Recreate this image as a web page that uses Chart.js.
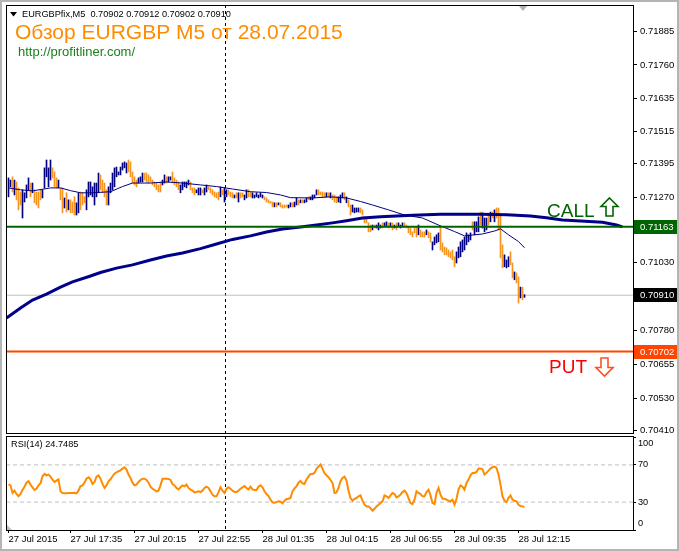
<!DOCTYPE html>
<html>
<head>
<meta charset="utf-8">
<script src="https://cdn.jsdelivr.net/npm/chart.js@4.4.0/dist/chart.umd.min.js"></script>
<style>
  body { margin: 0; background: #fff; }
  #janela { position: relative; width: 679px; height: 551px; overflow: hidden; background: #fff; }
  #janela canvas { position: absolute; left: 0; }
  #grafPreco { top: 0; }
  #grafRsi { top: 436px; }
  #moldura { position: absolute; left: 0; top: 0; width: 675px; height: 547px; border: 2px solid #b4b4b4; pointer-events: none; }
</style>
</head>
<body>
<div id="janela">
  <canvas id="grafPreco" width="679" height="436"></canvas>
  <canvas id="grafRsi" width="679" height="115"></canvas>
  <div id="moldura"></div>
</div>
<script>
// ---- Dados (preços em pontos de 0.00001) ----

// Rótulos de tempo do eixo X e as barras onde ficam
const rotulosTempo = ['27 Jul 2015', '27 Jul 17:35', '27 Jul 20:15', '27 Jul 22:55', '28 Jul 01:35',
  '28 Jul 04:15', '28 Jul 06:55', '28 Jul 09:35', '28 Jul 12:15'];
const barrasRotulos = [0, 31, 63, 95, 127, 159, 191, 223, 255];
const barraSeparador = 108; // 28 Jul 00:00

// Valores do eixo de preço
const ticksPreco = [71885, 71760, 71635, 71515, 71395, 71270, 71150, 71030, 70910, 70780, 70655, 70530, 70410];

// Máximas e mínimas das barras M5
const maximas = [
  71343, 71335, 71347, 71335, 71328, 71306, 71291, 71299, 71288, 71317,
  71343, 71324, 71324, 71299, 71291, 71291, 71299, 71299, 71380, 71409,
  71380, 71409, 71380, 71365, 71343, 71335, 71306, 71306, 71269, 71288,
  71262, 71262, 71254, 71273, 71251, 71288, 71291, 71288, 71273, 71299,
  71328, 71328, 71310, 71324, 71324, 71361, 71354, 71335, 71324, 71299,
  71310, 71324, 71361, 71380, 71383, 71365, 71383, 71398, 71402, 71398,
  71409, 71402, 71365, 71347, 71335, 71343, 71347, 71361, 71361, 71361,
  71354, 71347, 71335, 71328, 71324, 71317, 71328, 71335, 71354, 71347,
  71347, 71347, 71365, 71343, 71335, 71328, 71317, 71328, 71328, 71328,
  71335, 71328, 71306, 71306, 71299, 71306, 71306, 71299, 71306, 71317,
  71310, 71306, 71299, 71291, 71288, 71291, 71310, 71299, 71306, 71299,
  71299, 71291, 71288, 71280, 71288, 71288, 71288, 71288, 71280, 71299,
  71299, 71291, 71288, 71280, 71288, 71280, 71288, 71280, 71273, 71269,
  71262, 71256, 71254, 71251, 71251, 71251, 71251, 71243, 71243, 71243,
  71243, 71251, 71251, 71254, 71269, 71262, 71262, 71262, 71262, 71269,
  71273, 71273, 71280, 71280, 71299, 71299, 71291, 71291, 71288, 71288,
  71288, 71288, 71280, 71280, 71273, 71273, 71280, 71288, 71288, 71273,
  71262, 71243, 71243, 71232, 71232, 71232, 71232, 71225, 71199, 71195,
  71177, 71169, 71169, 71169, 71169, 71177, 71169, 71177, 71177, 71181,
  71177, 71177, 71177, 71169, 71177, 71177, 71169, 71177, 71177, 71169,
  71162, 71158, 71144, 71158, 71162, 71169, 71151, 71144, 71144, 71151,
  71144, 71140, 71107, 71125, 71133, 71140, 71162, 71103, 71088, 71085,
  71077, 71070, 71077, 71052, 71070, 71088, 71107, 71114, 71125, 71140,
  71133, 71140, 71181, 71181, 71181, 71199, 71217, 71214, 71195, 71195,
  71206, 71217, 71217, 71225, 71232, 71232, 71206, 71096, 71059, 71040,
  71052, 71070, 71029, 70996, 70992, 70978, 70940, 70940, 70912
];
const minimas = [
  71273, 71310, 71291, 71280, 71262, 71225, 71243, 71195, 71254, 71269,
  71299, 71273, 71288, 71251, 71243, 71232, 71262, 71269, 71306, 71347,
  71310, 71335, 71343, 71310, 71306, 71306, 71262, 71214, 71232, 71217,
  71225, 71214, 71214, 71206, 71206, 71214, 71225, 71243, 71251, 71225,
  71273, 71280, 71273, 71243, 71273, 71288, 71299, 71288, 71273, 71243,
  71243, 71288, 71299, 71310, 71347, 71354, 71354, 71372, 71380, 71361,
  71365, 71347, 71324, 71317, 71310, 71324, 71328, 71328, 71335, 71328,
  71324, 71328, 71317, 71310, 71299, 71291, 71291, 71317, 71324, 71324,
  71328, 71335, 71324, 71317, 71310, 71299, 71288, 71299, 71310, 71306,
  71317, 71299, 71288, 71280, 71288, 71280, 71280, 71288, 71280, 71291,
  71299, 71288, 71280, 71273, 71269, 71262, 71273, 71280, 71254, 71273,
  71280, 71273, 71269, 71269, 71269, 71254, 71269, 71273, 71262, 71269,
  71273, 71273, 71269, 71269, 71273, 71269, 71273, 71269, 71262, 71254,
  71251, 71249, 71236, 71236, 71236, 71243, 71236, 71232, 71232, 71236,
  71232, 71236, 71236, 71236, 71243, 71243, 71251, 71251, 71251, 71254,
  71262, 71262, 71262, 71269, 71280, 71280, 71280, 71273, 71273, 71273,
  71273, 71269, 71262, 71254, 71251, 71254, 71251, 71269, 71262, 71251,
  71236, 71206, 71217, 71214, 71217, 71217, 71214, 71206, 71177, 71177,
  71144, 71144, 71151, 71158, 71158, 71151, 71158, 71158, 71162, 71162,
  71158, 71162, 71151, 71158, 71151, 71162, 71158, 71162, 71162, 71158,
  71140, 71133, 71125, 71140, 71125, 71133, 71125, 71125, 71125, 71133,
  71122, 71107, 71077, 71096, 71103, 71107, 71077, 71070, 71059, 71059,
  71052, 71048, 71040, 71015, 71029, 71048, 71052, 71070, 71077, 71096,
  71107, 71114, 71151, 71133, 71144, 71144, 71169, 71158, 71144, 71151,
  71169, 71181, 71195, 71181, 71195, 71151, 71048, 71011, 71015, 71011,
  71015, 71022, 70974, 70967, 70955, 70881, 70900, 70893, 70902
];
// Sentido de cada barra: u = alta, d = baixa
const sentidoBarras = (
  'uududdduuu' + 'ududddduuu' + 'uuddduddud' + 'uddduudddu' + 'uuuuuudddd' +
  'uuuuuuuuuu' + 'ddddduuudd' + 'ddddddduud' + 'uudddduuuu' + 'uddduuuduu' +
  'dddddduduu' + 'dddududduu' + 'dduuuuuudd' + 'dddududddd' + 'uuduududuu' +
  'duuuuddddu' + 'duddduuudu' + 'dduuuudddd' + 'dduduuuduu' + 'dududuuudd' +
  'dddddudddu' + 'dduuuudddd' + 'dddduuuuuu' + 'uuduuuduuu' + 'dududddduu' +
  'udduddudu').split('');
const aberturaUltima = 70902;
const fechamentoUltimo = 70910;

// Média móvel rápida (fina)
const maRapidaBarras = [0, 6, 12, 21, 26, 31, 36, 42, 51, 57, 62, 71, 79, 87, 96, 104, 112, 121, 129,
  136, 141, 152, 161, 169, 176, 182, 190, 198, 207, 215, 223, 228, 237, 243, 246, 250, 255, 258];
const maRapidaValores = [71306, 71299, 71295, 71306, 71306, 71296, 71288, 71288, 71292, 71311, 71324,
  71324, 71328, 71324, 71317, 71311, 71302, 71292, 71289, 71280, 71270, 71269, 71273, 71269, 71256,
  71243, 71225, 71206, 71195, 71169, 71145, 71129, 71136, 71147, 71155, 71133, 71108, 71085];

// Média móvel lenta (grossa, deslocada para frente)
const maLentaBarras = [-1, 6, 12, 19, 26, 32, 41, 46, 54, 62, 71, 79, 87, 96, 104, 112, 121, 129, 137,
  146, 154, 162, 169, 177, 186, 194, 202, 216, 236, 249, 261, 269, 277, 286, 297, 304, 307];
const maLentaValores = [70826, 70863, 70892, 70914, 70940, 70959, 70981, 70994, 71010, 71022, 71040,
  71055, 71066, 71082, 71099, 71116, 71129, 71143, 71154, 71162, 71169, 71177, 71185, 71195, 71200,
  71202, 71205, 71209, 71209, 71207, 71202, 71196, 71188, 71184, 71179, 71169, 71162];

// Níveis horizontais
const nivelCall = 71163;
const nivelPut = 70702;
const precoBid = 70910;

// RSI(14)
const valoresRsi = [
  49, 48, 39.8, 42.3, 38.7, 36.2, 38.7, 43, 46.6, 50.9,
  52.4, 48.8, 45.9, 43, 44.4, 48, 50.2, 57.8, 60.3, 58.8,
  59.6, 57.4, 54.2, 51.6, 53.1, 54.5, 41.6, 39.8, 39.4, 39.4,
  39.8, 39.8, 39.8, 40.1, 39.4, 42.3, 47.3, 48, 50.9, 55.2,
  56.7, 54.5, 49.5, 51.6, 57.4, 58.8, 55.2, 49.5, 45.2, 48,
  52.4, 54.5, 57.8, 60.6, 62.1, 63.2, 64.2, 66, 67.5, 65,
  59.6, 56, 50.9, 48, 48.8, 51.6, 53.8, 55.2, 55.2, 53.8,
  50.9, 46.6, 44.4, 43, 41.6, 42.3, 48, 55.2, 55.2, 55.2,
  54.9, 53.8, 49.5, 48, 45.2, 43.7, 45.9, 48, 47, 48.8,
  45.2, 43.4, 42.3, 40.5, 40.8, 41.6, 40.8, 42.3, 45.2, 46.6,
  45.2, 41.6, 38, 36.2, 36.2, 40.8, 45.9, 42.3, 39.8, 44.4,
  45.9, 44.4, 42.3, 40.8, 40.8, 42.3, 44.4, 45.9, 47.3, 45.2,
  43.7, 46.6, 43.7, 43, 43, 46.6, 48, 45.9, 41.6, 38.7,
  36.5, 32.6, 29.7, 29.3, 30, 30.8, 30.4, 28.6, 31.5, 33.3,
  33.6, 34.4, 41.6, 44.8, 47, 50.9, 52.7, 50.2, 49.5, 54.2,
  57.4, 60.3, 60.3, 61.4, 65.7, 68.2, 70.4, 66, 61, 58.8,
  56.7, 53.8, 50.6, 39.8, 40.5, 45.2, 52.4, 56, 57.4, 53.1,
  42.3, 34.4, 31.5, 33.6, 34.4, 36.2, 37.2, 31.5, 27.2, 25.4,
  25.4, 23.6, 20.7, 22.8, 25.4, 27.2, 29, 30.8, 37.2, 36.2,
  34.4, 37.2, 39.8, 38.7, 35.1, 36.2, 38, 40.8, 42.3, 39.8,
  34.4, 29, 27.9, 32.6, 41.6, 39.8, 38.7, 36.2, 36.2, 40.8,
  43.4, 37.2, 29, 27.9, 39.8, 45.2, 38, 33.6, 33.6, 32.6,
  31.5, 30.8, 32.6, 27.2, 33.6, 43.4, 48, 46.6, 43.4, 50.6,
  54.2, 58.8, 61.4, 61.4, 62.4, 66, 66, 65.3, 59.6, 61.4,
  63.9, 66, 67.5, 68.2, 66.8, 59.6, 48.8, 36.2, 31.5, 30,
  34.4, 37.2, 32.6, 31.5, 30.8, 27.2, 25.7, 25.4, 24.7485
];
const niveisRsi = [70, 30];
const ticksRsi = [0, 30, 70, 100];

// ---- Escalas ----
const X_MIN = -1.25, X_MAX = 312.25;
const Y_MIN = 70401.6, Y_MAX = 71977.3;

const FONTE = '"Liberation Sans", Arial, sans-serif';
const fontePequena = { family: FONTE, size: 9.5 };
const azulBarra = '#000080';
const laranjaBarra = '#f5941f';

// Formata pontos como preço de 5 casas
function formatarPreco(v) {
  return (v / 100000).toFixed(5);
}

// Linha horizontal de um lado ao outro do gráfico
function linhaHorizontal(valor) {
  return [{ x: X_MIN, y: valor }, { x: X_MAX, y: valor }];
}

// Linha tracejada do separador de período
function desenharSeparador(chart) {
  const { ctx, chartArea } = chart;
  const x = Math.round(chart.scales.x.getPixelForValue(barraSeparador)) + 0.5;
  ctx.save();
  ctx.strokeStyle = '#000';
  ctx.lineWidth = 1;
  ctx.setLineDash([3, 3]);
  ctx.beginPath();
  ctx.moveTo(x, chartArea.top - 1);
  ctx.lineTo(x, chartArea.bottom + 1);
  ctx.stroke();
  ctx.restore();
}

// Moldura preta do painel
function desenharMoldura(chart) {
  const { ctx, chartArea } = chart;
  ctx.save();
  ctx.strokeStyle = '#000';
  ctx.lineWidth = 1;
  ctx.strokeRect(chartArea.left + 0.5, chartArea.top - 0.5,
    chartArea.right - chartArea.left, chartArea.bottom - chartArea.top + 1);
  ctx.restore();
}

// Etiqueta colorida no eixo de preço
function etiquetaPreco(chart, valor, cor) {
  const { ctx } = chart;
  const y = chart.scales.y.getPixelForValue(valor);
  ctx.save();
  ctx.fillStyle = cor;
  ctx.fillRect(chart.chartArea.right + 1, Math.round(y) - 7, 43, 14);
  ctx.fillStyle = '#fff';
  ctx.font = '9.5px ' + FONTE;
  ctx.textBaseline = 'middle';
  ctx.fillText(formatarPreco(valor), chart.chartArea.right + 7, Math.round(y));
  ctx.restore();
}

const painelPreco = {
  id: 'painelPreco',
  beforeDatasetsDraw(chart) {
    desenharSeparador(chart);
  },
  afterDraw(chart) {
    const { ctx } = chart;
    desenharMoldura(chart);

    // Cabeçalho com o símbolo e a última barra
    const ult = maximas.length - 1;
    ctx.save();
    ctx.fillStyle = '#000';
    ctx.beginPath();
    ctx.moveTo(10, 12); ctx.lineTo(17, 12); ctx.lineTo(13.5, 16.5); ctx.closePath();
    ctx.fill();
    ctx.font = '9.2px ' + FONTE;
    ctx.textBaseline = 'middle';
    ctx.fillText('EURGBPfix,M5  ' + formatarPreco(aberturaUltima) + ' ' + formatarPreco(maximas[ult]) + ' ' +
      formatarPreco(minimas[ult]) + ' ' + formatarPreco(fechamentoUltimo), 22, 14.5);

    // Título e site
    ctx.textBaseline = 'alphabetic';
    ctx.fillStyle = '#ff8c00';
    ctx.font = '21px ' + FONTE;
    ctx.fillText('Обзор EURGBP M5 от 28.07.2015', 15, 39);
    ctx.fillStyle = '#1a801a';
    ctx.font = '13px ' + FONTE;
    ctx.fillText('http://profitliner.com/', 18, 56);

    // Marcador de deslocamento no topo
    ctx.fillStyle = '#b0b0b0';
    ctx.beginPath();
    ctx.moveTo(519, 6); ctx.lineTo(527, 6); ctx.lineTo(523, 11); ctx.closePath();
    ctx.fill();

    // CALL e PUT com setas
    ctx.font = '19px ' + FONTE;
    ctx.fillStyle = '#006400';
    ctx.fillText('CALL', 547, 217);
    ctx.fillStyle = '#ff0000';
    ctx.fillText('PUT', 549, 373);

    ctx.lineWidth = 1.6;
    ctx.lineJoin = 'miter';
    ctx.strokeStyle = '#006400';
    ctx.beginPath();
    ctx.moveTo(609.5, 198); ctx.lineTo(618, 206.5); ctx.lineTo(613, 206.5); ctx.lineTo(613, 216);
    ctx.lineTo(606, 216); ctx.lineTo(606, 206.5); ctx.lineTo(601, 206.5); ctx.closePath();
    ctx.stroke();
    ctx.strokeStyle = '#ff5020';
    ctx.beginPath();
    ctx.moveTo(601, 358); ctx.lineTo(608, 358); ctx.lineTo(608, 367.5); ctx.lineTo(613, 367.5);
    ctx.lineTo(604.5, 376); ctx.lineTo(596, 367.5); ctx.lineTo(601, 367.5); ctx.closePath();
    ctx.stroke();
    ctx.restore();

    // Etiquetas no eixo de preço
    etiquetaPreco(chart, nivelCall, '#006400');
    etiquetaPreco(chart, precoBid, '#000000');
    etiquetaPreco(chart, nivelPut, '#ff4500');
  }
};

const painelRsi = {
  id: 'painelRsi',
  beforeDatasetsDraw(chart) {
    desenharSeparador(chart);
  },
  afterDraw(chart) {
    const { ctx, chartArea } = chart;
    desenharMoldura(chart);
    ctx.save();
    ctx.fillStyle = '#000';
    ctx.font = '9.2px ' + FONTE;
    ctx.textBaseline = 'middle';
    ctx.fillText('RSI(14) ' + valoresRsi[valoresRsi.length - 1], 11, 8);

    // Rótulos da escala do RSI, puxados para dentro do painel
    ticksRsi.forEach(v => {
      let y = chart.scales.y.getPixelForValue(v);
      y = Math.min(Math.max(y, chartArea.top + 6), chartArea.bottom - 7);
      ctx.fillText(String(v), chartArea.right + 5, y);
    });

    // Triângulo no canto inferior esquerdo
    ctx.fillStyle = '#c0c0c0';
    ctx.beginPath();
    ctx.moveTo(7, chartArea.bottom - 5); ctx.lineTo(7, chartArea.bottom); ctx.lineTo(12, chartArea.bottom);
    ctx.closePath();
    ctx.fill();
    ctx.restore();
  }
};

// ---- Gráfico de preço ----
const ctxPreco = document.getElementById('grafPreco').getContext('2d');
const graficoPreco = new Chart(ctxPreco, {
  type: 'bar',
  data: {
    datasets: [
      {
        type: 'line', label: 'Bid', data: linhaHorizontal(precoBid),
        borderColor: '#c0c0c0', borderWidth: 1, pointRadius: 0, order: 6
      },
      {
        // barThickness fixo só vale com agrupamento ligado (é o único conjunto de barras)
        type: 'bar', label: 'Barras',
        data: maximas.map((h, i) => ({ x: i, y: [minimas[i], h] })),
        backgroundColor: sentidoBarras.map(s => (s === 'u' ? azulBarra : laranjaBarra)),
        barThickness: 1, borderWidth: 0, order: 5
      },
      {
        type: 'line', label: 'MA lenta',
        data: maLentaBarras.map((b, i) => ({ x: b, y: maLentaValores[i] })),
        borderColor: '#00008b', borderWidth: 3, pointRadius: 0, tension: 0, order: 4
      },
      {
        type: 'line', label: 'MA rápida',
        data: maRapidaBarras.map((b, i) => ({ x: b, y: maRapidaValores[i] })),
        borderColor: '#000080', borderWidth: 1, pointRadius: 0, tension: 0, order: 3
      },
      {
        type: 'line', label: 'PUT', data: linhaHorizontal(nivelPut),
        borderColor: '#ff4500', borderWidth: 2, pointRadius: 0, order: 2
      },
      {
        type: 'line', label: 'CALL', data: linhaHorizontal(nivelCall),
        borderColor: '#006400', borderWidth: 2, pointRadius: 0, order: 1
      }
    ]
  },
  options: {
    responsive: false,
    animation: false,
    devicePixelRatio: 1,
    layout: { padding: { left: 6, top: 6, right: 0, bottom: 3 } },
    plugins: { legend: { display: false }, tooltip: { enabled: false } },
    scales: {
      x: { type: 'linear', min: X_MIN, max: X_MAX, offset: false, display: false },
      y: {
        position: 'right', min: Y_MIN, max: Y_MAX,
        afterBuildTicks: ax => { ax.ticks = ticksPreco.map(v => ({ value: v })); },
        afterFit: ax => { ax.width = 46; ax.paddingTop = 0; ax.paddingBottom = 0; },
        ticks: { callback: v => formatarPreco(v), font: fontePequena, color: '#000', padding: 3, autoSkip: false },
        grid: { drawOnChartArea: false, tickLength: 4, color: '#000' },
        border: { display: false }
      }
    }
  },
  plugins: [painelPreco]
});

// ---- Gráfico do RSI ----
const ctxRsi = document.getElementById('grafRsi').getContext('2d');
const graficoRsi = new Chart(ctxRsi, {
  type: 'line',
  data: {
    datasets: [
      ...niveisRsi.map(n => ({
        label: 'Nível ' + n, data: linhaHorizontal(n),
        borderColor: '#c0c0c0', borderWidth: 1, borderDash: [4, 3], pointRadius: 0, order: 2
      })),
      {
        label: 'RSI(14)', data: valoresRsi.map((v, i) => ({ x: i, y: v })),
        borderColor: '#ff8c00', borderWidth: 2, pointRadius: 0, tension: 0, order: 1
      }
    ]
  },
  options: {
    responsive: false,
    animation: false,
    devicePixelRatio: 1,
    layout: { padding: { left: 6, top: 1, right: 0, bottom: 0 } },
    plugins: { legend: { display: false }, tooltip: { enabled: false } },
    scales: {
      x: {
        type: 'linear', min: X_MIN, max: X_MAX, offset: false,
        afterBuildTicks: ax => { ax.ticks = barrasRotulos.map(v => ({ value: v })); },
        afterFit: ax => { ax.height = 21; ax.paddingLeft = 0; ax.paddingRight = 0; },
        ticks: {
          callback: (v, i) => rotulosTempo[i], align: 'start', autoSkip: false, maxRotation: 0,
          font: fontePequena, color: '#000', padding: 1
        },
        grid: { drawOnChartArea: false, tickLength: 3, color: '#000' },
        border: { display: false }
      },
      y: {
        position: 'right', min: 0, max: 100,
        afterBuildTicks: ax => { ax.ticks = ticksRsi.map(v => ({ value: v })); },
        afterFit: ax => { ax.width = 46; ax.paddingTop = 0; ax.paddingBottom = 0; },
        ticks: { display: false },
        grid: { drawOnChartArea: false, tickLength: 3, color: '#000' },
        border: { display: false }
      }
    }
  },
  plugins: [painelRsi]
});
</script>
</body>
</html>
